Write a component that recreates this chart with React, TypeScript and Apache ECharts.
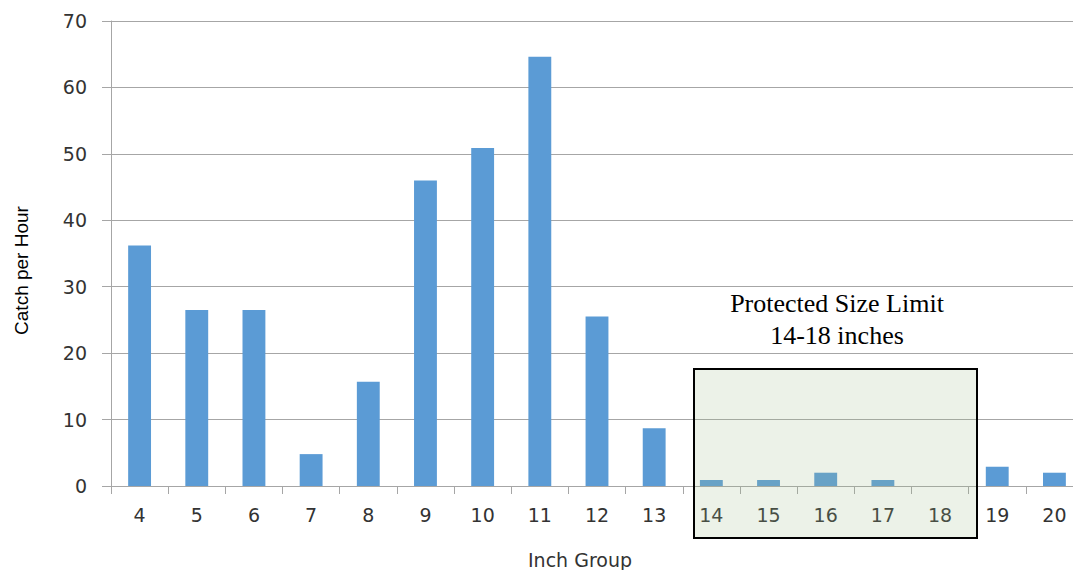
import React, { useEffect, useRef } from "react";
import * as echarts from "echarts";

const categories = ["4", "5", "6", "7", "8", "9", "10", "11", "12", "13", "14", "15", "16", "17", "18", "19", "20"];
const catchPerHour = [36.2, 26.5, 26.5, 4.8, 15.7, 46, 50.9, 64.6, 25.5, 8.7, 0.9, 0.9, 2.0, 0.9, 0, 2.9, 2.0];
const yTicks = { min: 0, max: 70, interval: 10 };
const xTitle = "Inch Group";
const yTitle = "Catch per Hour";
const noteLines = ["Protected Size Limit", "14-18 inches"];

export default function App() {
  const ref = useRef<HTMLDivElement>(null);
  useEffect(() => {
    if (!ref.current) return;
    const chart = echarts.init(ref.current, null, { renderer: "svg" });
    chart.setOption({
      animation: false,
      backgroundColor: "#ffffff",
      grid: {
        left: 111,
        top: 21,
        width: 972,
        height: 465,
        containLabel: false,
        outerBoundsMode: "none",
      },
      xAxis: {
        type: "category",
        data: categories,
        name: xTitle,
        nameLocation: "middle",
        nameGap: 64,
        nameTextStyle: {
          fontFamily: "DejaVu Sans",
          fontSize: 19,
          color: "#333333",
          padding: [0, 34, 0, 0],
        },
        axisLine: { lineStyle: { color: "#A6A6A6", width: 1 } },
        axisTick: { show: true, length: 8, alignWithLabel: false, lineStyle: { color: "#A6A6A6" } },
        axisLabel: { fontFamily: "DejaVu Sans", fontSize: 19, color: "#333333", margin: 19 },
        splitLine: { show: false },
      },
      yAxis: {
        type: "value",
        min: yTicks.min,
        max: yTicks.max,
        interval: yTicks.interval,
        name: yTitle,
        nameLocation: "middle",
        nameGap: 80,
        nameRotate: 90,
        nameTextStyle: {
          fontFamily: "Liberation Sans",
          fontSize: 19,
          color: "#000000",
          padding: [0, 34, 0, 0],
        },
        axisLine: { show: true, lineStyle: { color: "#A6A6A6", width: 1 } },
        axisTick: { show: true, length: 9, inside: false, lineStyle: { color: "#A6A6A6" } },
        axisLabel: { fontFamily: "DejaVu Sans", fontSize: 19, color: "#333333", margin: 24 },
        splitLine: { show: true, lineStyle: { color: "#A6A6A6", width: 1 } },
      },
      series: [
        {
          type: "bar",
          data: catchPerHour,
          barWidth: "40%",
          itemStyle: { color: "#5B9BD5" },
        },
      ],
      graphic: [
        {
          type: "rect",
          z: 100,
          shape: { x: 694, y: 369, width: 283, height: 169 },
          style: { fill: "rgba(160,190,140,0.2)", stroke: "#000000", lineWidth: 2 },
        },
        {
          type: "text",
          z: 101,
          x: 837,
          y: 303,
          style: {
            text: noteLines[0],
            font: "26px 'Liberation Serif'",
            fill: "#000000",
            textAlign: "center",
            textVerticalAlign: "middle",
          },
        },
        {
          type: "text",
          z: 101,
          x: 837,
          y: 335,
          style: {
            text: noteLines[1],
            font: "26px 'Liberation Serif'",
            fill: "#000000",
            textAlign: "center",
            textVerticalAlign: "middle",
          },
        },
      ],
    });
    return () => chart.dispose();
  }, []);
  return (
    <div
      ref={ref}
      style={{ position: "fixed", left: 0, top: 0, width: 1073, height: 570 }}
    />
  );
}
